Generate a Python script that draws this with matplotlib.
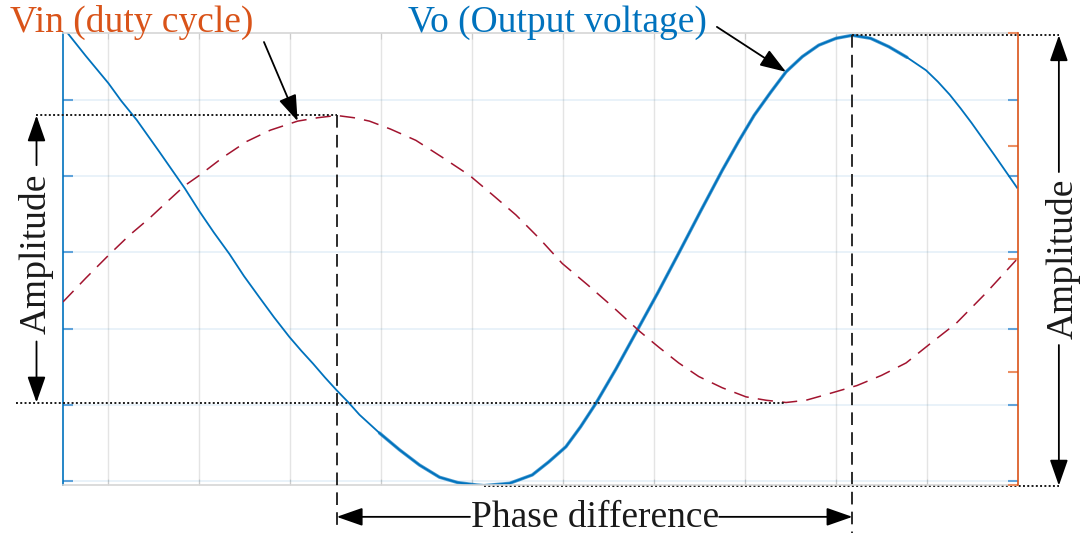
import numpy as np
import matplotlib.pyplot as plt

# output voltage Vo, left axis
vo_t = [0.50, 0.55, 0.75, 1.00, 1.14, 1.31, 1.56, 1.84, 2.00, 2.16, 2.33, 2.49, 2.66,
        2.82, 2.99, 3.12, 3.25, 3.38, 3.51, 3.64, 3.76, 3.98, 4.20, 4.42, 4.64, 4.84,
        5.04, 5.13, 5.22, 5.41, 5.66, 5.84, 6.03, 6.19, 6.36, 6.58, 6.81, 7.04, 7.27,
        7.51, 7.75, 7.93, 8.10, 8.28, 8.45, 8.63, 8.81, 9.00, 9.18, 9.38, 9.58, 9.78,
        9.99, 10.12, 10.25, 10.37, 10.49, 10.74, 10.99]
vo = [5.96, 5.88, 5.58, 5.22, 4.99, 4.74, 4.32, 3.84, 3.54, 3.26, 2.98, 2.69, 2.41,
      2.15, 1.89, 1.71, 1.54, 1.36, 1.19, 1.03, 0.87, 0.63, 0.41, 0.21, 0.05, -0.02,
      -0.05, -0.06, -0.05, -0.03, 0.08, 0.25, 0.45, 0.71, 1.02, 1.47, 1.97, 2.47, 2.99,
      3.54, 4.08, 4.46, 4.80, 5.10, 5.37, 5.57, 5.72, 5.81, 5.85, 5.81, 5.70, 5.56,
      5.39, 5.24, 5.07, 4.89, 4.70, 4.28, 3.85]

# input (duty cycle) Vin, right axis
vin_t = [0.50, 0.75, 1.01, 1.23, 1.45, 1.65, 1.84, 2.00, 2.26, 2.52, 2.78, 3.08, 3.30,
         3.51, 3.70, 3.87, 4.10, 4.38, 4.67, 4.97, 5.22, 5.48, 5.74, 5.99, 6.27, 6.54,
         6.84, 7.05, 7.27, 7.49, 7.75, 8.01, 8.23, 8.45, 8.67, 8.89, 9.23, 9.50, 9.77,
         10.05, 10.32, 10.65, 10.98]
vin = [1.62, 1.83, 2.04, 2.21, 2.36, 2.51, 2.65, 2.74, 2.90, 3.04, 3.14, 3.22, 3.25,
       3.27, 3.25, 3.22, 3.15, 3.05, 2.90, 2.74, 2.57, 2.39, 2.18, 1.96, 1.77, 1.58,
       1.36, 1.22, 1.08, 0.96, 0.86, 0.78, 0.75, 0.73, 0.75, 0.80, 0.88, 0.97, 1.08,
       1.26, 1.43, 1.70, 1.99]

plt.rcParams['font.family'] = ['Liberation Serif', 'DejaVu Serif']

blue = '#0072BD'
orange = '#D95319'
red = '#A2142F'
ink = '#1a1a1a'

fig = plt.figure(figsize=(10.82, 5.39), dpi=100)
ax = fig.add_axes([0.0582, 0.1002, 0.8826, 0.8386])
ax2 = ax.twinx()

ax.set_xlim(0.5, 11.0)
ax.set_ylim(-0.052, 5.88)
ax2.set_ylim(0, 4)
ax.set_xticks(range(1, 11))
ax.set_yticks(range(6))
ax2.set_yticks(range(5))

ax.set_axisbelow(True)
ax.grid(axis='x', color='#262626', alpha=0.12, lw=1)
ax.grid(axis='y', color=blue, alpha=0.1, lw=1.2)

ax.tick_params(axis='y', direction='in', length=7, width=1.5, color='#5fa3db',
               left=True, right=True, labelleft=False, labelright=False)
ax.tick_params(axis='x', direction='in', length=4, color='#cccccc', top=True,
               labelbottom=False)
ax2.tick_params(axis='y', direction='in', length=7, width=1.5, color='#ec8f63',
                labelright=False)

ax.spines['left'].set_color(blue)
ax.spines['right'].set_visible(False)
for s in ['top', 'bottom']:
    ax.spines[s].set_color('#d6d6d6')
    ax2.spines[s].set_visible(False)
ax2.spines['left'].set_visible(False)
ax2.spines['right'].set_color(orange)
for s in ax.spines.values():
    s.set_linewidth(1.2)
ax2.spines['right'].set_linewidth(1.2)

# curves; the switching ripple on Vo shows as a wider, softer trace
t = np.array(vo_t)
v = np.array(vo)
ax.plot(t, v, color=blue, lw=1.3)
ripple = (t >= 3.9) & (t <= 9.8)
ax.plot(t[ripple], v[ripple], color=blue, lw=2.4, alpha=0.7,
        solid_capstyle='round')
ax2.plot(vin_t, vin, color=red, lw=1.1, linestyle=(0, (10, 6)))

# peaks used by the guide lines
i_max = int(np.argmax(vin))
i_min = int(np.argmin(vin))
late = t > 5
j_max = int(np.where(late)[0][np.argmax(v[late])])
j_min = int(np.argmin(v))

dot = dict(color=ink, lw=1.4, linestyle=(0, (1, 1.2)), clip_on=False)
dash = dict(color=ink, lw=1.3, linestyle=(0, (7, 4)), clip_on=False)
arrow = dict(arrowstyle='-|>,head_length=1.0,head_width=0.35', color='black',
             lw=1.3, shrinkA=0, shrinkB=0, mutation_scale=16)
fs = 27

# left amplitude (Vin)
ax2.plot([0.198, vin_t[i_max]], [vin[i_max]] * 2, **dot)
ax2.plot([-0.011, vin_t[i_min]], [vin[i_min]] * 2, **dot)
mid_l = 2.05
ax2.annotate('', xy=(0.209, vin[i_max]), xytext=(0.209, mid_l + 0.78),
             arrowprops=arrow, annotation_clip=False)
ax2.annotate('', xy=(0.209, vin[i_min]), xytext=(0.209, mid_l - 0.78),
             arrowprops=arrow, annotation_clip=False)
ax2.text(0.209, mid_l, 'Amplitude', rotation=90, ha='center', va='center',
         fontsize=fs, color=ink)

# right amplitude (Vo)
ax.plot([vo_t[j_max], 11.45], [vo[j_max]] * 2, **dot)
ax.plot([vo_t[j_min], 11.45], [vo[j_min]] * 2, **dot)
mid_r = 2.92
ax.annotate('', xy=(11.45, vo[j_max]), xytext=(11.45, mid_r + 1.135),
            arrowprops=arrow, annotation_clip=False)
ax.annotate('', xy=(11.45, vo[j_min]), xytext=(11.45, mid_r - 1.135),
            arrowprops=arrow, annotation_clip=False)
ax.text(11.50, mid_r, 'Amplitude', rotation=90, ha='center', va='center',
        fontsize=fs, color=ink)

# phase difference between the two peaks
ax2.plot([vin_t[i_max]] * 2, [vin[i_max], -0.42], **dash)
ax.plot([vo_t[j_max]] * 2, [vo[j_max], -0.68], **dash)
mid_x = (vin_t[i_max] + vo_t[j_max]) / 2
ax.annotate('', xy=(vin_t[i_max], -0.47), xytext=(mid_x - 1.37, -0.47),
            arrowprops=arrow, annotation_clip=False)
ax.annotate('', xy=(vo_t[j_max], -0.47), xytext=(mid_x + 1.37, -0.47),
            arrowprops=arrow, annotation_clip=False)
ax.text(mid_x, -0.60, 'Phase difference', ha='center', va='baseline',
        fontsize=fs, color=ink)

# curve labels
k_vin = vin_t.index(3.08)
ax2.annotate('', xy=(vin_t[k_vin], vin[k_vin]), xytext=(2.71, 3.92),
             arrowprops=arrow, annotation_clip=False)
k_vo = vo_t.index(8.45)
ax.annotate('', xy=(vo_t[k_vo], vo[k_vo]), xytext=(7.69, 5.96),
            arrowprops=arrow, annotation_clip=False)
fig.text(10 / 1082, 1 - 32 / 539, 'Vin (duty cycle)', color=orange, fontsize=fs,
         va='baseline')
fig.text(408 / 1082, 1 - 32 / 539, 'Vo (Output voltage)', color=blue, fontsize=fs,
         va='baseline')

fig.savefig('out.png', dpi=100)
